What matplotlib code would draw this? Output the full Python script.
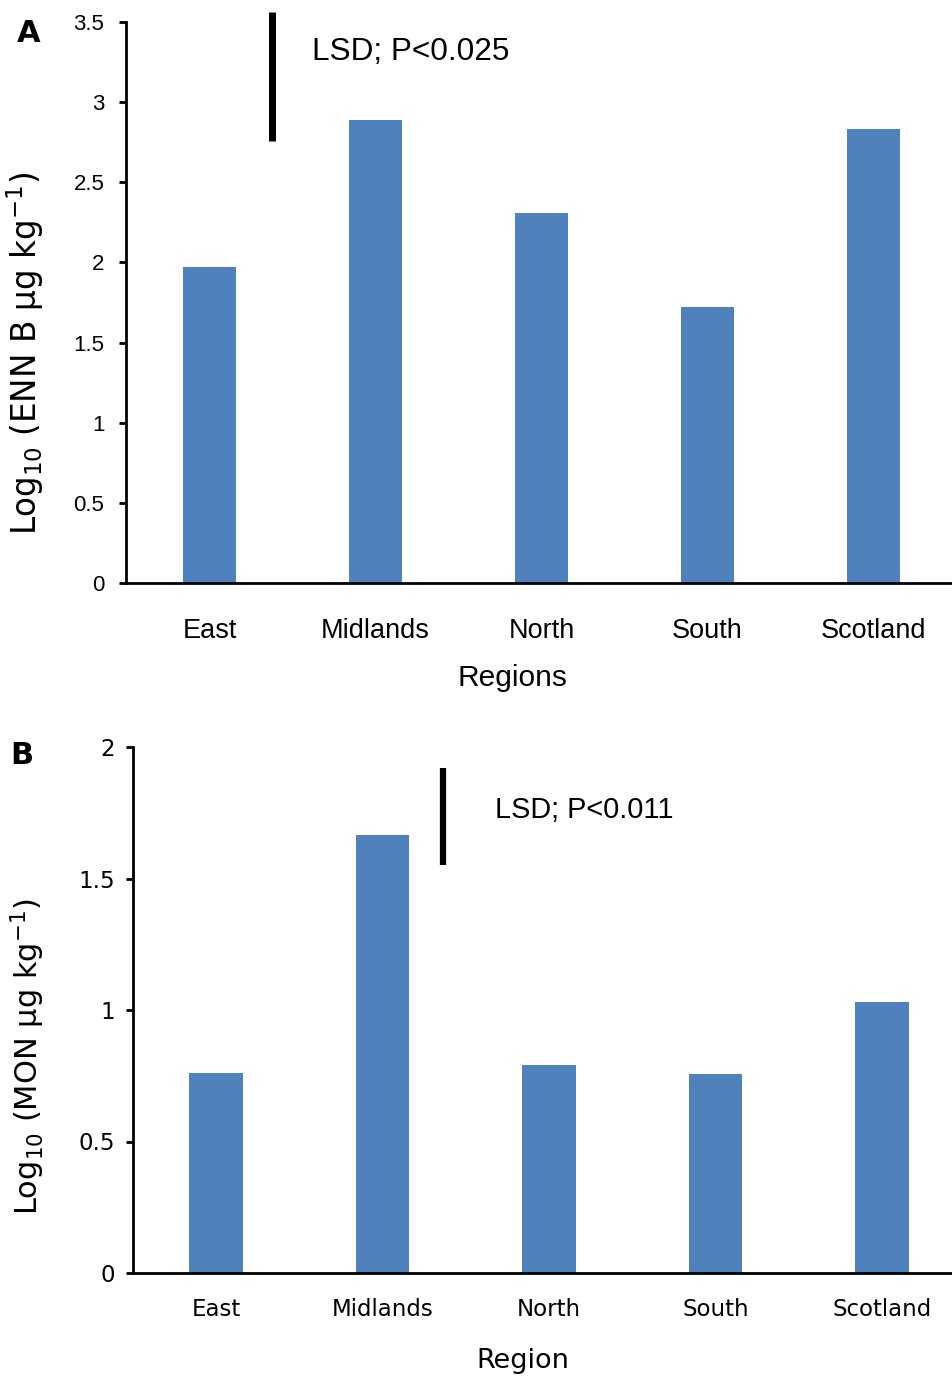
"""
Two-panel bar chart: log10 mycotoxin concentration (ENN B, MON) by UK region, with LSD bars.
"""
import numpy as np
import matplotlib
matplotlib.use("Agg")
import matplotlib.pyplot as plt

regions = ["East", "Midlands", "North", "South", "Scotland"]

# Panel A: ENN B
enn_b = [1.97, 2.89, 2.31, 1.72, 2.83]
lsd_a = 0.80
lsd_a_top = 3.56
yticks_a = [0, 0.5, 1, 1.5, 2, 2.5, 3, 3.5]
yticklabels_a = ["0", "0.5", "1", "1.5", "2", "2.5", "3", "3.5"]

# Panel B: MON
mon = [0.76, 1.665, 0.79, 0.757, 1.03]
lsd_b = 0.37
lsd_b_top = 1.92
yticks_b = [0, 0.5, 1, 1.5, 2]
yticklabels_b = ["0", "0.5", "1", "1.5", "2"]

BAR = "#4F81BD"
W, H = 953, 1381

fig = plt.figure(figsize=(W / 100, H / 100), dpi=100)


def px_axes(left, top, right, bottom):
    return fig.add_axes([left / W, 1 - bottom / H, (right - left) / W, (bottom - top) / H])


def style(ax, ylim, yticks, yticklabels, tickfont, ticksize, tickpad, xfont, xsize, xpad):
    x = np.arange(len(regions))
    ax.set_xlim(-0.5, len(regions) - 0.5)
    ax.set_ylim(*ylim)
    for s in ("top", "right"):
        ax.spines[s].set_visible(False)
    for s in ("left", "bottom"):
        ax.spines[s].set_linewidth(2.0)
    ax.set_yticks(yticks)
    ax.set_yticklabels(yticklabels, fontfamily=tickfont, fontsize=ticksize)
    ax.tick_params(axis="y", direction="out", length=5, width=2.0, pad=tickpad)
    ax.set_xticks(x)
    ax.set_xticklabels(regions, fontfamily=xfont, fontsize=xsize)
    ax.tick_params(axis="x", length=0, pad=xpad)
    return x


# ---- Panel A ----
axA = px_axes(126.5, 22, 956.5, 583)
x = style(axA, (0, 3.5), yticks_a, yticklabels_a, "Liberation Sans", 16, 11,
          "Liberation Sans", 19.5, 25)
axA.bar(x, enn_b, width=0.32, color=BAR)
axA.plot([0.376, 0.376], [lsd_a_top - lsd_a, lsd_a_top], color="black", lw=5,
         solid_capstyle="butt", clip_on=False)
axA.text(0.62, 3.31, "LSD; P<0.025", fontfamily="Liberation Sans", fontsize=22.7,
         va="center", ha="left")
fig.text(512 / W, 1 - 678 / H, "Regions", fontfamily="Liberation Sans", fontsize=21.5,
         ha="center", va="center")
fig.text(25 / W, 1 - 353 / H, r"Log$_{10}$ (ENN B µg kg$^{-1}$)", fontsize=23.5,
         rotation=90, ha="center", va="center")
fig.text(29 / W, 1 - 33 / H, "A", fontsize=22, fontweight="bold", ha="center", va="center")

# ---- Panel B ----
axB = px_axes(132.75, 747, 965.25, 1273)
x = style(axB, (0, 2), yticks_b, yticklabels_b, "DejaVu Sans", 16.5, 8,
          "DejaVu Sans", 16.5, 18)
axB.bar(x, mon, width=0.32, color=BAR)
axB.plot([1.363, 1.363], [lsd_b_top - lsd_b, lsd_b_top], color="black", lw=4.5,
         solid_capstyle="butt", clip_on=False)
axB.text(1.676, 1.76, "LSD; P<0.011", fontfamily="Liberation Sans", fontsize=20.8,
         va="center", ha="left")
fig.text(523 / W, 1 - 1361 / H, "Region", fontfamily="DejaVu Sans", fontsize=19.5,
         ha="center", va="center")
fig.text(28 / W, 1 - 1056 / H, r"Log$_{10}$ (MON µg kg$^{-1}$)", fontsize=22,
         rotation=90, ha="center", va="center")
fig.text(22 / W, 1 - 755 / H, "B", fontsize=22, fontweight="bold", ha="center", va="center")

fig.savefig("out.png", dpi=100)
